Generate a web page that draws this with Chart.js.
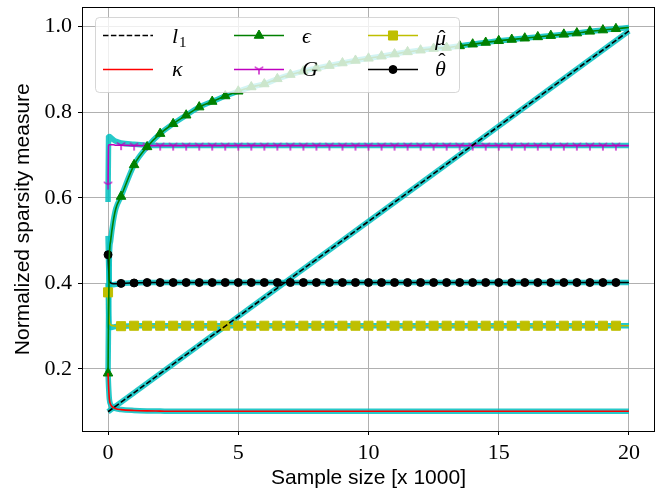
<!DOCTYPE html>
<html lang="en">
<head>
<meta charset="UTF-8">
<title>Normalized sparsity measure</title>
<script src="https://cdn.jsdelivr.net/npm/chart.js@4.4.0/dist/chart.umd.min.js"></script>
<style>
  html, body { margin: 0; padding: 0; background: #fff; }
  #wrap { width: 665px; height: 495px; }
</style>
</head>
<body>
<div id="wrap"><canvas id="myChart" width="665" height="495"></canvas></div>
<script>
// sample size (x 1000)
const sampleSizes = [0, 0.02, 0.05, 0.1, 0.2, 0.3, 0.5,
  1, 1.5, 2, 2.5, 3, 3.5, 4, 4.5, 5, 5.5, 6, 6.5, 7, 7.5, 8, 8.5, 9, 9.5, 10,
  10.5, 11, 11.5, 12, 12.5, 13, 13.5, 14, 14.5, 15, 15.5, 16, 16.5, 17, 17.5,
  18, 18.5, 19, 19.5, 20];

const l1X = [0, 20];
const l1Y = [0.1, 0.99];

const kappa = [0.19, 0.16, 0.13, 0.117, 0.110, 0.107, 0.105,
  0.103, 0.102, 0.1015, 0.101, 0.101, 0.101, 0.101, 0.101, 0.101, 0.101, 0.101, 0.101, 0.101, 0.101,
  0.101, 0.101, 0.101, 0.101, 0.101, 0.101, 0.101, 0.101, 0.101, 0.101, 0.101, 0.101, 0.101, 0.101,
  0.101, 0.101, 0.101, 0.101, 0.101, 0.101, 0.101, 0.101, 0.101, 0.101, 0.101];

const epsilon = [0.19, 0.33, 0.46, 0.50, 0.545, 0.575, 0.603,
  0.677, 0.719, 0.750, 0.773, 0.793, 0.812, 0.825, 0.838, 0.849, 0.859, 0.866, 0.878, 0.888, 0.896,
  0.903, 0.909, 0.915, 0.921, 0.926, 0.931, 0.936, 0.941, 0.945, 0.949, 0.951, 0.955, 0.959, 0.963,
  0.967, 0.970, 0.973, 0.976, 0.979, 0.982, 0.985, 0.989, 0.992, 0.995, 0.998];

const gini = [0.631, 0.722, 0.724, 0.724, 0.724, 0.723, 0.723,
  0.722, 0.722, 0.722, 0.722, 0.722, 0.722, 0.722, 0.722, 0.722, 0.722, 0.722, 0.722, 0.722, 0.722,
  0.722, 0.722, 0.722, 0.722, 0.722, 0.722, 0.722, 0.722, 0.722, 0.722, 0.722, 0.722, 0.722, 0.722,
  0.722, 0.722, 0.722, 0.722, 0.722, 0.722, 0.722, 0.722, 0.722, 0.722, 0.722];
const giniFit = [0.59, 0.742, 0.743, 0.741, 0.736, 0.732, 0.728,
  0.725, 0.723, 0.722, 0.722, 0.722, 0.722, 0.722, 0.722, 0.722, 0.722, 0.722, 0.722, 0.722, 0.722,
  0.722, 0.722, 0.722, 0.722, 0.722, 0.722, 0.722, 0.722, 0.722, 0.722, 0.722, 0.722, 0.722, 0.722,
  0.722, 0.722, 0.722, 0.722, 0.722, 0.722, 0.722, 0.722, 0.722, 0.722, 0.722];

const muHat = [0.379, 0.34, 0.31, 0.303, 0.301, 0.300, 0.300,
  0.301, 0.301, 0.301, 0.301, 0.301, 0.301, 0.301, 0.301, 0.301, 0.301, 0.301, 0.301, 0.301, 0.301,
  0.301, 0.301, 0.301, 0.301, 0.301, 0.301, 0.301, 0.301, 0.301, 0.301, 0.301, 0.301, 0.301, 0.301,
  0.301, 0.301, 0.301, 0.301, 0.301, 0.301, 0.301, 0.301, 0.301, 0.301, 0.301];
const muHatFit = [0.40, 0.34, 0.30, 0.297, 0.298, 0.299, 0.300,
  0.301, 0.301, 0.301, 0.301, 0.301, 0.301, 0.301, 0.301, 0.301, 0.301, 0.301, 0.301, 0.301, 0.301,
  0.301, 0.301, 0.301, 0.301, 0.301, 0.301, 0.301, 0.301, 0.301, 0.301, 0.301, 0.301, 0.301, 0.301,
  0.301, 0.301, 0.301, 0.301, 0.301, 0.301, 0.301, 0.301, 0.301, 0.301, 0.301];

const thetaHat = [0.467, 0.44, 0.407, 0.401, 0.399, 0.399, 0.400,
  0.401, 0.402, 0.402, 0.402, 0.402, 0.402, 0.402, 0.402, 0.402, 0.402, 0.402, 0.402, 0.402, 0.402,
  0.402, 0.402, 0.402, 0.402, 0.402, 0.402, 0.402, 0.402, 0.402, 0.402, 0.402, 0.402, 0.402, 0.402,
  0.402, 0.402, 0.402, 0.402, 0.402, 0.402, 0.402, 0.402, 0.402, 0.402, 0.402];
const thetaHatFit = [0.511, 0.45, 0.40, 0.396, 0.397, 0.398, 0.400,
  0.401, 0.402, 0.402, 0.402, 0.402, 0.402, 0.402, 0.402, 0.402, 0.402, 0.402, 0.402, 0.402, 0.402,
  0.402, 0.402, 0.402, 0.402, 0.402, 0.402, 0.402, 0.402, 0.402, 0.402, 0.402, 0.402, 0.402, 0.402,
  0.402, 0.402, 0.402, 0.402, 0.402, 0.402, 0.402, 0.402, 0.402, 0.402, 0.402];

const xTicks = [0, 5, 10, 15, 20];
const yTicks = [0.2, 0.4, 0.6, 0.8, 1.0];

const CYAN = 'rgba(0,191,191,0.85)';

// tri_down marker (matplotlib "1")
function triDown(color) {
  const c = document.createElement('canvas');
  c.width = 14; c.height = 14;
  const g = c.getContext('2d');
  g.strokeStyle = color;
  g.lineWidth = 1.3;
  g.beginPath();
  g.moveTo(7, 7); g.lineTo(7, 12);
  g.moveTo(7, 7); g.lineTo(2.7, 4.5);
  g.moveTo(7, 7); g.lineTo(11.3, 4.5);
  g.stroke();
  return c;
}
const triMarker = triDown('#bf00bf');

const pts = (ys) => sampleSizes.map((x, i) => ({ x: x, y: ys[i] }));
const isMark = (i) => sampleSizes[i] % 0.5 === 0 && sampleSizes[i] < 20;

function series(ys, color, style, r) {
  return {
    data: pts(ys),
    borderColor: color,
    backgroundColor: color,
    borderWidth: 1.6,
    pointStyle: style,
    pointRadius: (ctx) => isMark(ctx.dataIndex) ? r : 0,
    pointBorderWidth: 1,
    cubicInterpolationMode: 'monotone',
    order: 1
  };
}
function fit(ys) {
  return {
    data: pts(ys),
    borderColor: CYAN,
    borderWidth: 5.5,
    pointRadius: 0,
    cubicInterpolationMode: 'monotone',
    order: 2
  };
}

// legend: label, optional hat, colour, marker
const legendItems = [
  { col: 0, row: 0, label: 'l', sub: '1', color: '#000', dash: [5.5, 2.4] },
  { col: 0, row: 1, label: 'κ', color: '#ff0000' },
  { col: 1, row: 0, label: 'ϵ', color: '#008000', style: 'triangle', r: 5.5 },
  { col: 1, row: 1, label: 'G', color: '#bf00bf', style: triMarker, r: 5 },
  { col: 2, row: 0, label: 'μ', hat: 0, color: '#bfbf00', style: 'rect', r: 6.4 },
  { col: 2, row: 1, label: 'θ', hat: -8, color: '#000', style: 'circle', r: 4 }
];

const framePlugin = {
  id: 'frameAndLegend',
  afterDraw(chart) {
    const ctx = chart.ctx;
    const a = chart.chartArea;
    ctx.save();
    ctx.strokeStyle = '#000';
    ctx.lineWidth = 1;
    ctx.strokeRect(Math.round(a.left) + 0.5, Math.round(a.top) + 0.5,
      Math.round(a.right - a.left) - 1, Math.round(a.bottom - a.top));

    // legend box, drawn over the data like matplotlib (framealpha 0.8)
    const bx = 95, by = 17, bw = 364, bh = 75;
    ctx.beginPath();
    ctx.roundRect(bx + 0.5, by + 0.5, bw, bh, 4);
    ctx.fillStyle = 'rgba(255,255,255,0.8)';
    ctx.fill();
    ctx.strokeStyle = 'rgba(204,204,204,0.8)';
    ctx.stroke();

    const colX = [103, 234, 368];
    const textX = [172, 302, 435];
    const rowY = [35, 69];
    const baseY = [43, 76];
    legendItems.forEach(it => {
      const x0 = colX[it.col], y = rowY[it.row];
      ctx.save();
      ctx.strokeStyle = it.color;
      ctx.fillStyle = it.color;
      ctx.lineWidth = 1.6;
      if (it.dash) ctx.setLineDash(it.dash);
      ctx.beginPath();
      ctx.moveTo(x0, y + 0.5);
      ctx.lineTo(x0 + 50, y + 0.5);
      ctx.stroke();
      ctx.setLineDash([]);
      if (it.style) {
        ctx.lineWidth = 1;
        Chart.helpers.drawPoint(ctx, { pointStyle: it.style, radius: it.r, borderWidth: 1, rotation: 0 }, x0 + 25, y + 0.5);
      }
      ctx.restore();

      let base = baseY[it.row];
      if (it.hat === 0) base += 2;
      const tx = textX[it.col];
      ctx.fillStyle = '#000';
      ctx.textBaseline = 'alphabetic';
      ctx.textAlign = 'left';
      ctx.font = 'italic 22px "Liberation Serif"';
      ctx.fillText(it.label, tx, base);
      const w = ctx.measureText(it.label).width;
      if (it.sub) {
        ctx.font = '15px "Liberation Serif"';
        ctx.fillText(it.sub, tx + w + 1, base + 4);
      }
      if (it.hat !== undefined) {
        ctx.font = '22px "Liberation Serif"';
        ctx.textAlign = 'center';
        ctx.fillText('ˆ', tx + w / 2 + 1.5, base + it.hat);
      }
    });
    ctx.restore();
  }
};

const ctx = document.getElementById('myChart').getContext('2d');
new Chart(ctx, {
  type: 'line',
  data: {
    datasets: [
      { data: l1X.map((x, i) => ({ x: x, y: l1Y[i] })), borderColor: '#000', borderWidth: 1.6,
        borderDash: [5.5, 2.4], pointRadius: 0, order: 1 },
      series(kappa, '#ff0000', 'circle', 0),
      series(epsilon, '#008000', 'triangle', 5.5),
      series(gini, '#bf00bf', triMarker, 5),
      series(muHat, '#bfbf00', 'rect', 6.4),
      series(thetaHat, '#000000', 'circle', 4),
      { data: l1X.map((x, i) => ({ x: x, y: l1Y[i] })), borderColor: CYAN, borderWidth: 5.5, pointRadius: 0, order: 2 },
      fit(kappa),
      fit(epsilon),
      fit(giniFit),
      fit(muHatFit),
      fit(thetaHatFit)
    ]
  },
  options: {
    responsive: false,
    animation: false,
    events: [],
    layout: { padding: { top: 6, right: 10, left: 0, bottom: 0 } },
    plugins: { legend: { display: false }, tooltip: { enabled: false } },
    scales: {
      x: {
        type: 'linear', min: -1, max: 21,
        afterFit: (s) => { s.height = 64; s.paddingLeft = 0; s.paddingRight = 0; },
        afterBuildTicks: (s) => { s.ticks = xTicks.map(v => ({ value: v })); },
        grid: { color: '#b0b0b0', lineWidth: 1, tickColor: '#000', tickLength: 4 },
        border: { display: false },
        ticks: { color: '#000', padding: 5, maxRotation: 0, font: { family: 'Liberation Serif', size: 22 } },
        title: { display: true, text: 'Sample size [x 1000]', color: '#000',
          padding: { top: 0, bottom: 4 }, font: { family: 'Liberation Sans', size: 21 } }
      },
      y: {
        type: 'linear', min: 0.055, max: 1.045,
        afterFit: (s) => { s.width = 82; s.paddingTop = 0; s.paddingBottom = 0; },
        afterBuildTicks: (s) => { s.ticks = yTicks.map(v => ({ value: v })); },
        grid: { color: '#b0b0b0', lineWidth: 1, tickColor: '#000', tickLength: 4 },
        border: { display: false },
        ticks: { color: '#000', padding: 6, callback: (v) => v.toFixed(1),
          font: { family: 'Liberation Serif', size: 22 } },
        title: { display: true, text: 'Normalized sparsity measure', color: '#000',
          padding: { top: 11, bottom: 0 }, font: { family: 'Liberation Sans', size: 21 } }
      }
    }
  },
  plugins: [framePlugin]
});
</script>
</body>
</html>
